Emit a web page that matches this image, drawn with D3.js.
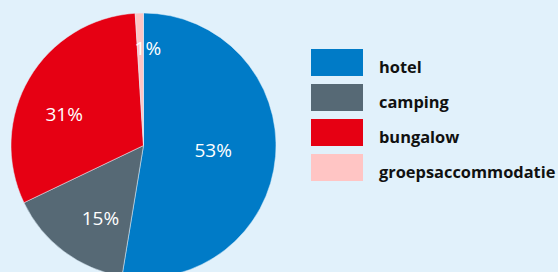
<!DOCTYPE html>
<html lang="nl">
<head>
<meta charset="UTF-8">
<title>Verdeling overnachtingen</title>
<style>
  html, body { margin: 0; padding: 0; background: #e1f1fb; }
  svg { display: block; }
  .label { fill: #fff; font-family: "Open Sans", sans-serif; font-size: 19px; }
  .legend text { font-family: "Open Sans", sans-serif; font-weight: 700; font-size: 16.4px; fill: #111; }
</style>
</head>
<body>
<svg width="558" height="272"></svg>
<script src="https://d3js.org/d3.v7.min.js"></script>
<script>
// categorieen en aandelen (procent)
const categories = ["hotel", "camping", "bungalow", "groepsaccommodatie"];
const values = [52.6, 15.3, 31.1, 1.0];
const colors = ["#007bc7", "#566975", "#e60013", "#ffc5c4"];

const width = 558, height = 272;
const cx = 143.5, cy = 145.5, radius = 132.5;

// kleine verschuivingen van de labels t.o.v. het zwaartepunt
const nudge = [[-15, -2], [8, 5], [-6, 12], [7, -12]];

const svg = d3.select("svg");

const data = categories.map((c, i) => ({ name: c, value: values[i], i }));

const pie = d3.pie().value(d => d.value).sort(null);
const arcs = pie(data);

const arc = d3.arc().innerRadius(0).outerRadius(radius);
const labelArc = d3.arc().innerRadius(85).outerRadius(85);

const g = svg.append("g").attr("transform", `translate(${cx},${cy})`);

g.selectAll("path")
  .data(arcs)
  .join("path")
  .attr("d", arc)
  .attr("fill", d => colors[d.data.i])
  .attr("stroke", "#e1f1fb")
  .attr("stroke-width", 0.5);

g.selectAll("text")
  .data(arcs)
  .join("text")
  .attr("class", "label")
  .attr("text-anchor", "middle")
  .attr("dy", "0.35em")
  .attr("transform", d => {
    const [x, y] = labelArc.centroid(d);
    const n = nudge[d.data.i];
    return `translate(${x + n[0]},${y + n[1]})`;
  })
  .text(d => Math.round(d.data.value) + "%");

// legenda
const legend = svg.append("g").attr("class", "legend")
  .attr("transform", "translate(311,49)");

const row = d3.scaleBand().domain(categories).range([0, 132]).paddingInner(0.229).paddingOuter(0);

const item = legend.selectAll("g")
  .data(data)
  .join("g")
  .attr("transform", d => `translate(0,${row(d.name)})`);

item.append("rect")
  .attr("width", 52)
  .attr("height", row.bandwidth())
  .attr("fill", d => colors[d.i]);

item.append("text")
  .attr("x", 68)
  .attr("y", row.bandwidth() / 2 + 10.5)
  .text(d => d.name);
</script>
</body>
</html>
